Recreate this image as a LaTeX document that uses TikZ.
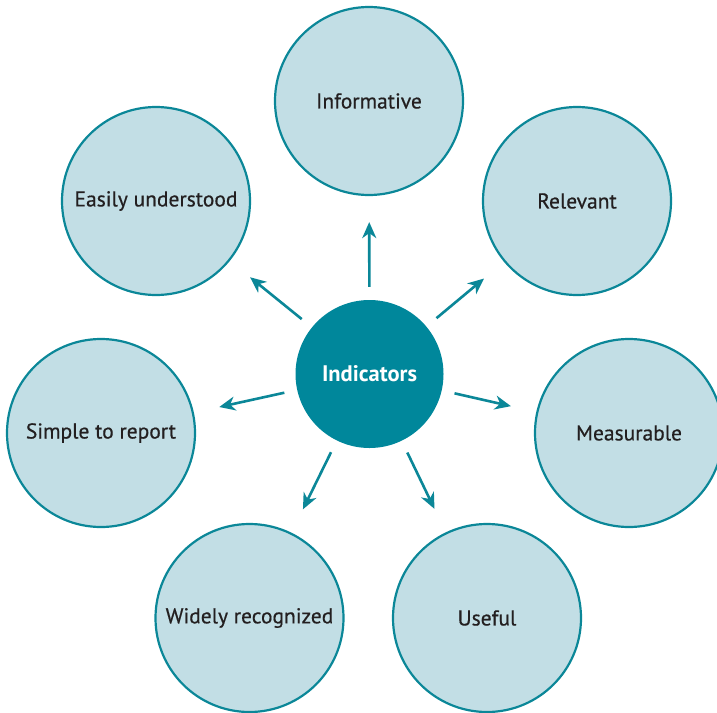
\documentclass[tikz,border=0pt]{standalone}
\usepackage{fontspec}
\setmainfont{PT Sans}
\newfontfamily\lblfont{PT Sans}[FakeBold=0.5]
\usetikzlibrary{arrows.meta}
\definecolor{teal}{HTML}{00879B}
\definecolor{edgeblue}{HTML}{0B8798}
\definecolor{lightfill}{HTML}{C2DEE5}
\definecolor{txt}{HTML}{231F20}
\begin{document}
\begin{tikzpicture}[x=1pt,y=-1pt,
  outer/.style={circle, draw=edgeblue, fill=lightfill, line width=2.2pt,
    minimum size=188pt, inner sep=0pt, text=txt, font=\lblfont\fontsize{21.5}{24}\selectfont},
  hub/.style={circle, fill=teal, minimum size=148pt, inner sep=0pt,
    text=white, font=\fontsize{22.5}{25}\selectfont\bfseries},
  link/.style={draw=edgeblue, line width=2.6pt,
    -{Stealth[length=16pt,width=14pt,inset=5pt]},
    shorten <=13pt, shorten >=26pt}]
\useasboundingbox (0,0) rectangle (717,712);
\node[hub] (c) at (369.5,374) {Indicators};
\node[outer] (inf) at (369,101) {Informative};
\node[outer] (rel) at (577,201) {Relevant};
\node[outer] (mea) at (629,433) {Measurable};
\node[outer] (use) at (487,618) {Useful};
\node[outer] (wid) at (249.5,618) {Widely recognized};
\node[outer] (sim) at (101,433) {Simple to report};
\node[outer] (eas) at (156,201) {Easily understood};
\foreach \t in {inf,rel,mea,use,wid,sim,eas}
  \draw[link] (c) -- (\t);
\end{tikzpicture}
\end{document}
